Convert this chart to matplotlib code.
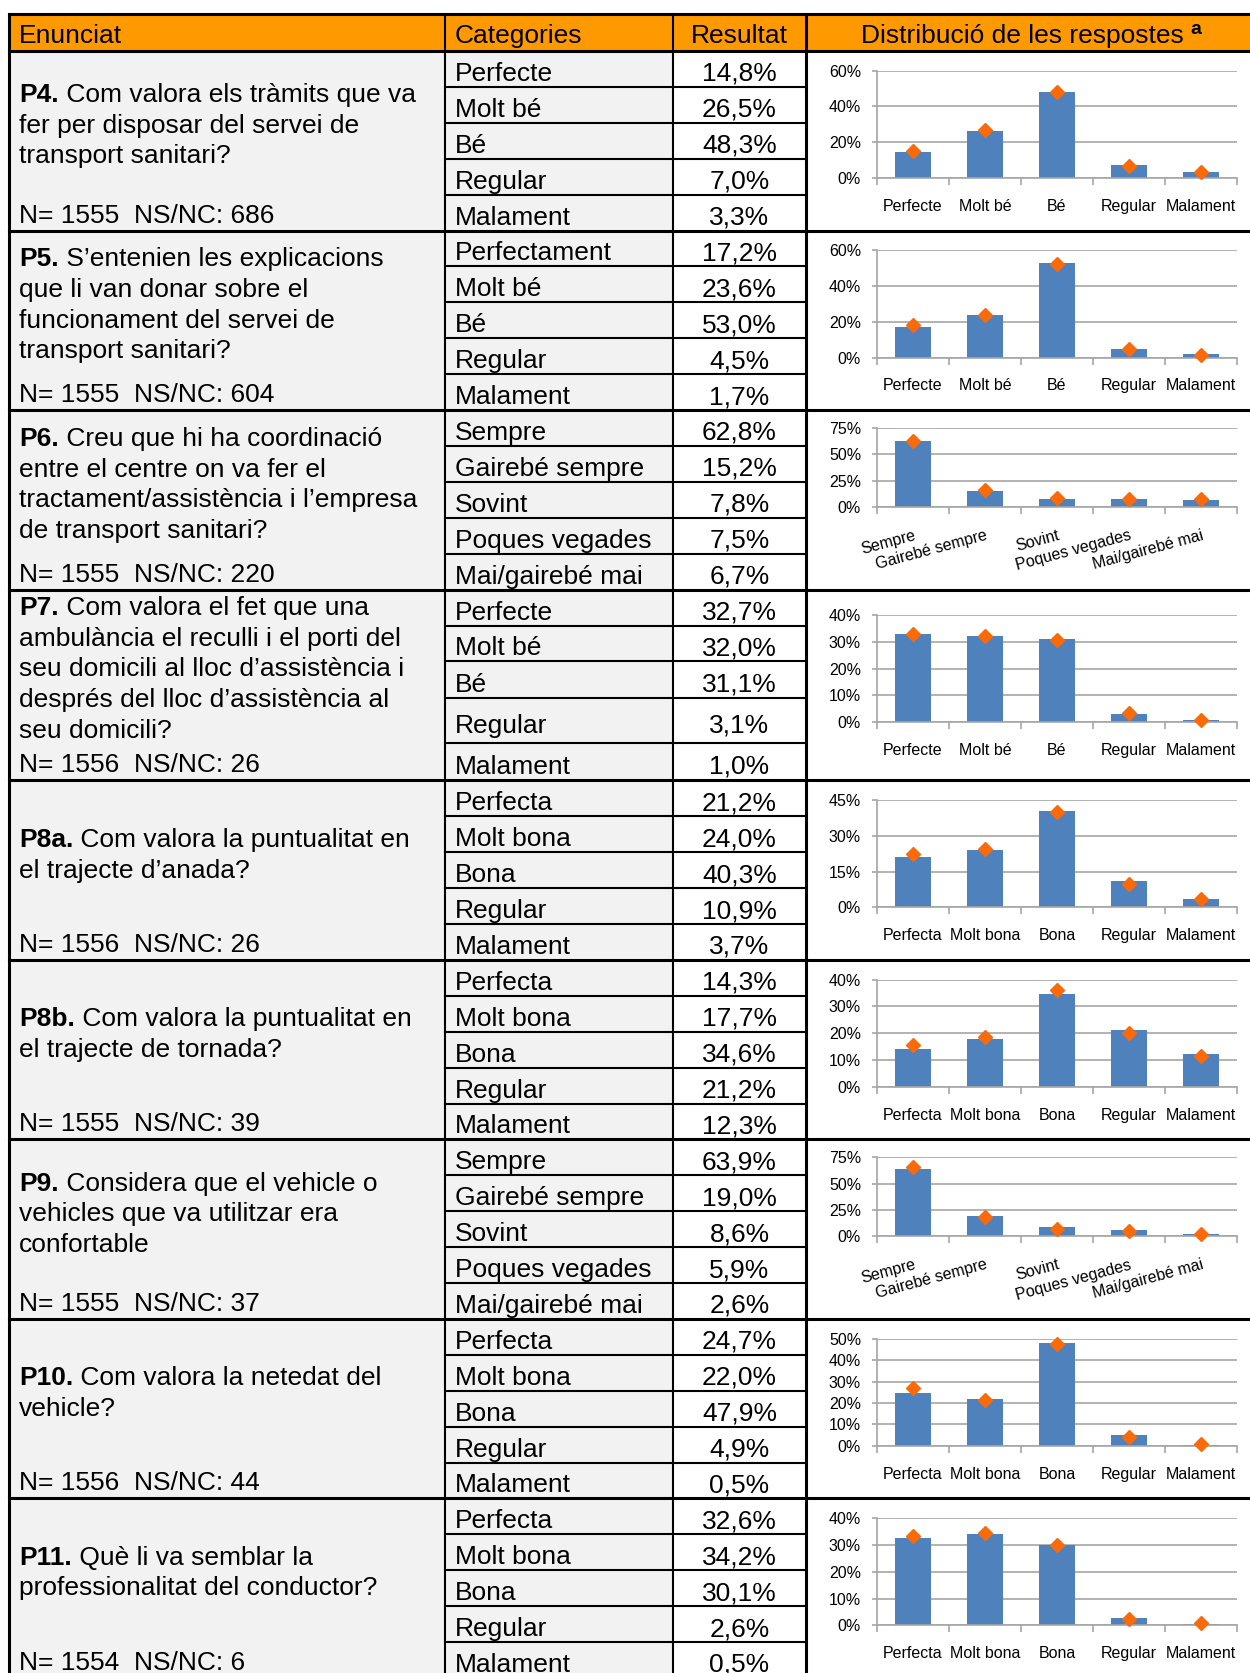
import numpy as np
import matplotlib
matplotlib.use('Agg')
import matplotlib.pyplot as plt
from matplotlib.patches import Rectangle
from matplotlib.ticker import FuncFormatter

plt.rcParams['font.family'] = ['Liberation Sans', 'DejaVu Sans']

# --- dades ---
codis = ['P4.', 'P5.', 'P6.', 'P7.', 'P8a.', 'P8b.', 'P9.', 'P10.', 'P11.']
preguntes = [
    ['Com valora els tràmits que va', 'fer per disposar del servei de', 'transport sanitari?'],
    ['S’entenien les explicacions', 'que li van donar sobre el', 'funcionament del servei de', 'transport sanitari?'],
    ['Creu que hi ha coordinació', 'entre el centre on va fer el', 'tractament/assistència i l’empresa', 'de transport sanitari?'],
    ['Com valora el fet que una', 'ambulància el reculli i el porti del', 'seu domicili al lloc d’assistència i',
     'després del lloc d’assistència al', 'seu domicili?'],
    ['Com valora la puntualitat en', 'el trajecte d’anada?'],
    ['Com valora la puntualitat en', 'el trajecte de tornada?'],
    ['Considera que el vehicle o', 'vehicles que va utilitzar era', 'confortable'],
    ['Com valora la netedat del', 'vehicle?'],
    ['Què li va semblar la', 'professionalitat del conductor?'],
]
mostres = ['N= 1555  NS/NC: 686', 'N= 1555  NS/NC: 604', 'N= 1555  NS/NC: 220',
           'N= 1556  NS/NC: 26', 'N= 1556  NS/NC: 26', 'N= 1555  NS/NC: 39',
           'N= 1555  NS/NC: 37', 'N= 1556  NS/NC: 44', 'N= 1554  NS/NC: 6']

cat_be = ['Perfecte', 'Molt bé', 'Bé', 'Regular', 'Malament']
cat_p5 = ['Perfectament', 'Molt bé', 'Bé', 'Regular', 'Malament']
cat_freq = ['Sempre', 'Gairebé sempre', 'Sovint', 'Poques vegades', 'Mai/gairebé mai']
cat_bona = ['Perfecta', 'Molt bona', 'Bona', 'Regular', 'Malament']

categories = [cat_be, cat_p5, cat_freq, cat_be, cat_bona, cat_bona, cat_freq, cat_bona, cat_bona]
etiquetes = [cat_be, cat_be, cat_freq, cat_be, cat_bona, cat_bona, cat_freq, cat_bona, cat_bona]

resultats = [
    [14.8, 26.5, 48.3, 7.0, 3.3],
    [17.2, 23.6, 53.0, 4.5, 1.7],
    [62.8, 15.2, 7.8, 7.5, 6.7],
    [32.7, 32.0, 31.1, 3.1, 1.0],
    [21.2, 24.0, 40.3, 10.9, 3.7],
    [14.3, 17.7, 34.6, 21.2, 12.3],
    [63.9, 19.0, 8.6, 5.9, 2.6],
    [24.7, 22.0, 47.9, 4.9, 0.5],
    [32.6, 34.2, 30.1, 2.6, 0.5],
]
referencia = [
    [15.1, 27.1, 48.0, 6.8, 3.5],
    [18.0, 24.0, 52.5, 4.5, 1.5],
    [62.7, 16.0, 8.8, 7.2, 7.5],
    [32.8, 32.0, 30.8, 3.3, 1.0],
    [22.5, 24.5, 40.0, 10.0, 3.5],
    [15.8, 18.6, 36.0, 20.2, 11.5],
    [65.5, 18.5, 7.5, 5.5, 2.2],
    [26.8, 21.4, 47.4, 4.2, 0.8],
    [33.5, 34.5, 30.0, 2.5, 0.8],
]
escala_max = [60, 60, 75, 40, 45, 40, 75, 50, 40]
escala_pas = [20, 20, 25, 10, 15, 10, 25, 10, 10]

# --- disseny ---
W, H = 1250, 1673
X0, X1, X2, X3, X4 = 8.5, 445, 673, 806, 1250
alt_files = [[35.9] * 5] * 3 + [[36.3, 35.2, 37.3, 44.8, 37.3]] + [[35.9] * 5] * 5
FS = 19
BLAU = '#4F81BD'
TARONJA = '#F96A0A'
GRIS = '#A6A6A6'


def fmt(v):
    return ('%.1f' % v).replace('.', ',') + '%'


fig = plt.figure(figsize=(12.5, 16.73), dpi=100)
ax = fig.add_axes([0, 0, 1, 1])
ax.set_xlim(0, W)
ax.set_ylim(H, 0)
ax.axis('off')

# capçalera
ax.add_patch(Rectangle((X0, 14), X4 - X0, 37, fc='#FF9900', ec='none', zorder=0))
ax.text(19, 36, 'Enunciat', fontsize=FS, va='center')
ax.text(455, 36, 'Categories', fontsize=FS, va='center')
ax.text((X2 + X3) / 2, 36, 'Resultat', fontsize=FS, va='center', ha='center')
tit = ax.text(1022, 36, 'Distribució de les respostes', fontsize=FS, va='center', ha='center')
ax.annotate('a', xy=(1, 1), xycoords=tit, xytext=(5, 2), textcoords='offset points',
            fontsize=14, fontweight='bold', va='top')
ax.plot([X0, X4], [14, 14], color='black', lw=2.2)
ax.plot([X0, X4], [51, 51], color='black', lw=2.2)
for xv, lw in [(X0, 2.2), (X1, 1.5), (X2, 1.5), (X3, 2.2)]:
    ax.plot([xv, xv], [14, H], color='black', lw=lw)

y = 51
for i in range(9):
    hs = alt_files[i]
    top = y
    bot = y + sum(hs)
    ax.add_patch(Rectangle((X0, top), X2 - X0, bot - top, fc='#F2F2F2', ec='none', zorder=0))

    # enunciat
    ultima = bot - hs[-1]
    n = len(preguntes[i])
    yc = (top + ultima) / 2 - (n - 1) / 2 * 30.6 + 3
    for k, linia in enumerate(preguntes[i]):
        yl = yc + k * 30.6
        if k == 0:
            b = ax.text(19, yl, codis[i], fontsize=FS, fontweight='bold', va='center')
            ax.annotate(' ' + linia, xy=(1, 0), xycoords=b, fontsize=FS, va='bottom', ha='left')
        else:
            ax.text(19, yl, linia, fontsize=FS, va='center')
    ax.text(19, ultima + hs[-1] / 2 + 3, mostres[i], fontsize=FS, va='center')

    # categories i resultats
    yy = top
    for j, h in enumerate(hs):
        ym = yy + h / 2 + 5
        ax.text(455, ym, categories[i][j], fontsize=FS, va='center')
        ax.text((X2 + X3) / 2, ym, fmt(resultats[i][j]), fontsize=FS, va='center', ha='center')
        if j < len(hs) - 1:
            ax.plot([X1, X3], [yy + h, yy + h], color='black', lw=1.5)
        yy += h
    ax.plot([X0, X4], [bot, bot], color='black', lw=2.2)

    # gràfic
    rot = etiquetes[i] is cat_freq
    extra = (bot - top - 179.5) / 2
    if rot:
        ya, yb = top + 18, top + 97
    else:
        ya, yb = top + 19.7 + extra, top + 127 + extra
    cax = fig.add_axes([877 / W, 1 - yb / H, (1237 - 877) / W, (yb - ya) / H])
    x = np.arange(5)
    cax.bar(x, resultats[i], width=0.5, color=BLAU, zorder=2)
    cax.plot(x, referencia[i], 'D', color=TARONJA, ms=7, zorder=3, clip_on=False)
    cax.set_xlim(-0.5, 4.5)
    cax.set_ylim(0, escala_max[i])
    cax.set_yticks(np.arange(0, escala_max[i] + 1, escala_pas[i]))
    cax.yaxis.set_major_formatter(FuncFormatter(lambda v, p: '%d%%' % v))
    cax.grid(axis='y', color=GRIS, lw=1.2)
    cax.set_axisbelow(True)
    cax.patch.set_alpha(0)
    for s in ['top', 'right']:
        cax.spines[s].set_visible(False)
    for s in ['left', 'bottom']:
        cax.spines[s].set_color(GRIS)
        cax.spines[s].set_linewidth(1.2)
    cax.set_xticks(np.arange(-0.5, 5, 1))
    cax.set_xticklabels([])
    cax.set_xticks(x, minor=True)
    cax.set_xticklabels(etiquetes[i], minor=True, fontsize=11.5)
    cax.tick_params(axis='x', which='major', length=5, color=GRIS, width=1.2)
    cax.tick_params(axis='x', which='minor', length=0, pad=15)
    cax.tick_params(axis='y', length=3.5, color=GRIS, width=1.2, labelsize=11.5, pad=8)
    if rot:
        for lab in cax.get_xticklabels(minor=True):
            lab.set_rotation(15)
            lab.set_ha('right')
            lab.set_rotation_mode('anchor')
    y = bot

fig.savefig('out.png', dpi=100)
